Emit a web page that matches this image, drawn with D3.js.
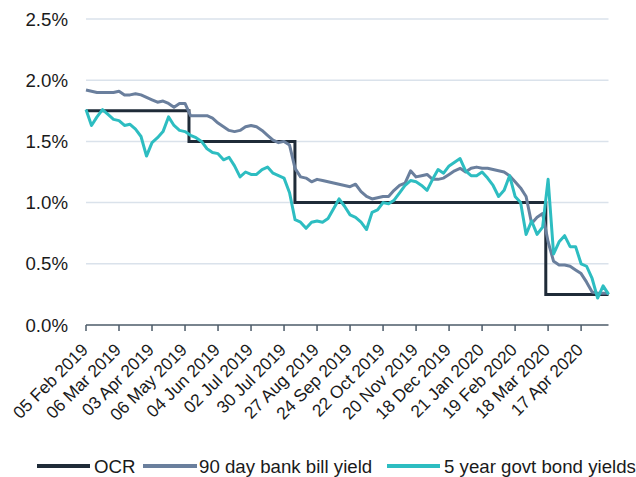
<!DOCTYPE html>
<html>
<head>
<meta charset="utf-8">
<script src="https://cdn.jsdelivr.net/npm/d3@7"></script>
<style>
  body { margin: 0; background: #fff; }
  svg { display: block; }
  text { font-family: "Liberation Sans", Arial, sans-serif; font-size: 18.67px; fill: #1a1a1a; }
  .xlab { font-size: 17.33px; }
</style>
</head>
<body>
<svg id="chart" width="636" height="477"></svg>
<script>
// x axis labels, one every 6 samples
const tickLabels = ["05 Feb 2019", "06 Mar 2019", "03 Apr 2019", "06 May 2019", "04 Jun 2019",
  "02 Jul 2019", "30 Jul 2019", "27 Aug 2019", "24 Sep 2019", "22 Oct 2019", "20 Nov 2019",
  "18 Dec 2019", "21 Jan 2020", "19 Feb 2020", "18 Mar 2020", "17 Apr 2020"];
const samplesPerTick = 6;

const yTicks = [0, 0.5, 1.0, 1.5, 2.0, 2.5];

// OCR: rate and where it changed (in tick units)
const ocrChangeAt = [0, 3.12, 6.33, 13.93, 15.83];
const ocrRates = [1.75, 1.5, 1.0, 0.25, 0.25];

// 90 day bank bill yield (%)
const bill90 = [1.92, 1.91, 1.90, 1.90, 1.90, 1.90, 1.91, 1.88, 1.88, 1.89, 1.88, 1.86,
  1.84, 1.82, 1.83, 1.81, 1.78, 1.81, 1.81, 1.71, 1.71, 1.71, 1.71, 1.69,
  1.65, 1.62, 1.59, 1.58, 1.59, 1.62, 1.63, 1.62, 1.59, 1.55, 1.51, 1.49,
  1.50, 1.47, 1.28, 1.21, 1.20, 1.17, 1.19, 1.18, 1.17, 1.16, 1.15, 1.14,
  1.13, 1.15, 1.09, 1.05, 1.03, 1.04, 1.05, 1.05, 1.10, 1.14, 1.16, 1.26,
  1.21, 1.22, 1.23, 1.19, 1.19, 1.20, 1.23, 1.26, 1.28, 1.25, 1.28, 1.29,
  1.28, 1.28, 1.27, 1.26, 1.25, 1.22, 1.17, 1.12, 1.05, 0.83, 0.88, 0.91,
  0.68, 0.52, 0.49, 0.49, 0.48, 0.45, 0.42, 0.35, 0.27, 0.26, 0.26, 0.26];

// 5 year govt bond yields (%)
const govt5y = [1.76, 1.63, 1.70, 1.76, 1.72, 1.68, 1.67, 1.63, 1.64, 1.60, 1.54, 1.38,
  1.49, 1.53, 1.58, 1.70, 1.63, 1.59, 1.58, 1.55, 1.53, 1.50, 1.44, 1.41,
  1.40, 1.35, 1.37, 1.30, 1.21, 1.25, 1.23, 1.23, 1.27, 1.29, 1.24, 1.22,
  1.20, 1.08, 0.86, 0.84, 0.79, 0.84, 0.85, 0.84, 0.87, 0.95, 1.03, 0.97,
  0.90, 0.88, 0.84, 0.78, 0.92, 0.94, 1.00, 0.99, 1.02, 1.08, 1.14, 1.18,
  1.17, 1.14, 1.10, 1.19, 1.27, 1.24, 1.30, 1.33, 1.36, 1.26, 1.22, 1.22,
  1.25, 1.20, 1.14, 1.05, 1.10, 1.22, 1.05, 1.00, 0.74, 0.85, 0.74, 0.80,
  1.19, 0.58, 0.68, 0.73, 0.64, 0.64, 0.50, 0.48, 0.38, 0.22, 0.32, 0.25];

const seriesNames = ["OCR", "90 day bank bill yield", "5 year govt bond yields"];
const colors = ["#1f2b38", "#6a7f9d", "#2dbdc1"];

const svg = d3.select("#chart");
const x = d3.scaleLinear().domain([0, 15.83]).range([86, 608.5]);
const y = d3.scaleLinear().domain([0, 2.5]).range([325, 19]);

// gridlines
svg.append("g").selectAll("line")
  .data(yTicks.filter(d => d > 0))
  .enter().append("line")
  .attr("x1", x.range()[0]).attr("x2", x.range()[1])
  .attr("y1", d => y(d)).attr("y2", d => y(d))
  .attr("stroke", "#dae2eb").attr("stroke-width", 1.5);

// y labels
svg.append("g").selectAll("text")
  .data(yTicks)
  .enter().append("text")
  .attr("x", 68).attr("y", d => y(d)).attr("dy", "0.35em")
  .attr("text-anchor", "end")
  .text(d => d.toFixed(1) + "%");

// x axis
const xAxis = svg.append("g");
xAxis.append("line")
  .attr("x1", x.range()[0]).attr("x2", x.range()[1])
  .attr("y1", y(0)).attr("y2", y(0))
  .attr("stroke", "#4d5b69").attr("stroke-width", 1.5);
xAxis.selectAll(".tick")
  .data(tickLabels)
  .enter().append("line")
  .attr("x1", (d, i) => x(i)).attr("x2", (d, i) => x(i))
  .attr("y1", y(0)).attr("y2", y(0) + 6)
  .attr("stroke", "#4d5b69").attr("stroke-width", 1.5);
xAxis.selectAll("text")
  .data(tickLabels)
  .enter().append("text")
  .attr("class", "xlab")
  .attr("transform", (d, i) => `translate(${x(i) + 3},${y(0) + 26}) rotate(-45)`)
  .attr("text-anchor", "end")
  .text(d => d);

const line = d3.line().x(d => x(d[0])).y(d => y(d[1]));

const ocrData = ocrChangeAt.map((t, i) => [t, ocrRates[i]]);
const billData = bill90.map((v, i) => [i / samplesPerTick, v]);
const govtData = govt5y.map((v, i) => [i / samplesPerTick, v]);

svg.append("path").datum(ocrData)
  .attr("d", line.curve(d3.curveStepAfter))
  .attr("fill", "none").attr("stroke", colors[0]).attr("stroke-width", 3);

line.curve(d3.curveLinear);
[billData, govtData].forEach((data, i) => {
  svg.append("path").datum(data)
    .attr("d", line)
    .attr("fill", "none").attr("stroke", colors[i + 1])
    .attr("stroke-width", 3).attr("stroke-linejoin", "round");
});

// legend
const legendItems = [
  { x1: 37, x2: 90, tx: 94 },
  { x1: 143, x2: 197, tx: 199 },
  { x1: 387, x2: 440, tx: 444 }
];
const legend = svg.append("g");
legendItems.forEach((l, i) => {
  legend.append("line")
    .attr("x1", l.x1).attr("x2", l.x2).attr("y1", 466).attr("y2", 466)
    .attr("stroke", colors[i]).attr("stroke-width", 4);
  legend.append("text")
    .attr("x", l.tx).attr("y", 466).attr("dy", "0.35em")
    .text(seriesNames[i]);
});
</script>
</body>
</html>
